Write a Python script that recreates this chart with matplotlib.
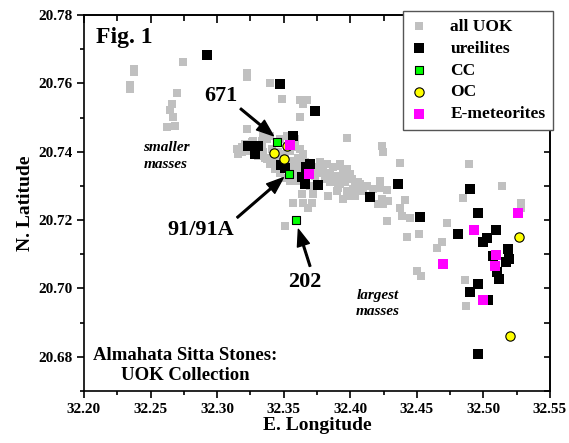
import matplotlib
matplotlib.use('Agg')
import matplotlib.pyplot as plt
from matplotlib.ticker import MultipleLocator, FormatStrFormatter

plt.rcParams['font.family'] = ['Liberation Serif', 'DejaVu Serif']
plt.rcParams['font.weight'] = 'bold'

# all UOK stones (gray)
uok_lon = [32.2376, 32.2376, 32.2346, 32.2346, 32.2746, 32.2697, 32.2659, 32.2646, 32.2671, 32.2684, 32.2621,
           32.3222, 32.3222, 32.3397, 32.3485, 32.3623, 32.3648, 32.3673, 32.3623, 32.3222, 32.3974,
           32.4237, 32.4249, 32.4374, 32.4895,
           32.3147, 32.3159, 32.3185, 32.3210, 32.3272, 32.3335, 32.3373, 32.3347, 32.3373, 32.3397, 32.3435,
           32.3585, 32.3623, 32.3648, 32.3610, 32.3648, 32.3473, 32.3510, 32.3548, 32.3585, 32.3548,
           32.3473, 32.3510, 32.3548,
           32.3773, 32.3823, 32.3873, 32.3923, 32.3974, 32.3773, 32.3823, 32.3886, 32.3948, 32.4011,
           32.4061, 32.4124, 32.4174, 32.4224,
           32.3848, 32.3911, 32.3974, 32.4023, 32.4074,
           32.3698, 32.3723, 32.3711, 32.3685, 32.3648, 32.3636, 32.3835, 32.3572, 32.3510,
           32.3948, 32.3936, 32.3998, 32.3961, 32.4036, 32.4074, 32.4098, 32.4023, 32.3974, 32.4036,
           32.3948, 32.4174, 32.4224, 32.4274, 32.4237, 32.4286, 32.4211, 32.4249, 32.3923,
           32.4412, 32.4374, 32.4387, 32.4449, 32.4274, 32.4519, 32.4424, 32.4725, 32.4687, 32.4650,
           32.4845, 32.4500, 32.4532, 32.4863, 32.4868, 32.5138, 32.5281, 32.5281,
           32.3185, 32.3222, 32.3260, 32.3297, 32.3335, 32.3310, 32.3360, 32.3410, 32.3398, 32.3448,
           32.3460, 32.3485, 32.3523, 32.3560, 32.3598, 32.3623, 32.3585, 32.3610, 32.3660, 32.3710,
           32.3735, 32.3748, 32.3798, 32.3848, 32.3810, 32.3873, 32.3923, 32.3898, 32.3348, 32.3398,
           32.3523, 32.3585]
uok_lat = [20.7643, 20.7633, 20.7594, 20.7584, 20.7663, 20.7571, 20.7540, 20.7521, 20.7501, 20.7476, 20.7471,
           20.7629, 20.7619, 20.7601, 20.7555, 20.7550, 20.7540, 20.7550, 20.7501, 20.7467, 20.7440,
           20.7418, 20.7398, 20.7366, 20.7364,
           20.7408, 20.7393, 20.7413, 20.7423, 20.7432, 20.7432, 20.7437, 20.7398, 20.7379, 20.7364, 20.7349,
           20.7413, 20.7408, 20.7393, 20.7383, 20.7374, 20.7437, 20.7393, 20.7374, 20.7359, 20.7403,
           20.7339, 20.7324, 20.7314,
           20.7369, 20.7364, 20.7354, 20.7359, 20.7349, 20.7339, 20.7334, 20.7329, 20.7324, 20.7320,
           20.7310, 20.7300, 20.7290, 20.7295,
           20.7310, 20.7295, 20.7285, 20.7276, 20.7290,
           20.7300, 20.7276, 20.7251, 20.7236, 20.7251, 20.7276, 20.7271, 20.7251, 20.7182,
           20.7349, 20.7329, 20.7334, 20.7310, 20.7310, 20.7305, 20.7285, 20.7290, 20.7271, 20.7271,
           20.7261, 20.7290, 20.7313, 20.7287, 20.7261, 20.7256, 20.7246, 20.7246, 20.7364,
           20.7258, 20.7234, 20.7212, 20.7205, 20.7198, 20.7159, 20.7150, 20.7192, 20.7137, 20.7119,
           20.7264, 20.7050, 20.7035, 20.7024, 20.6950, 20.7300, 20.7251, 20.7236,
           20.7398, 20.7403, 20.7428, 20.7408, 20.7413, 20.7388, 20.7383, 20.7408, 20.7383, 20.7369,
           20.7398, 20.7383, 20.7359, 20.7349, 20.7339, 20.7359, 20.7329, 20.7314, 20.7369, 20.7344,
           20.7329, 20.7354, 20.7349, 20.7339, 20.7320, 20.7310, 20.7305, 20.7285, 20.7445, 20.7447,
           20.7447, 20.7437]

# ureilites (black)
ure_lon = [32.2924, 32.3473, 32.3736, 32.3568, 32.3234, 32.3305, 32.3285, 32.3480, 32.3510, 32.3698,
           32.3668, 32.3636, 32.3660, 32.3761, 32.4149, 32.4357, 32.4524,
           32.4900, 32.4958, 32.4812, 32.5095, 32.5026, 32.4995, 32.5183, 32.5195, 32.5171, 32.5075,
           32.5105, 32.5120, 32.4962, 32.4900, 32.5038, 32.4962]
ure_lat = [20.7682, 20.7599, 20.7519, 20.7445, 20.7418, 20.7418, 20.7393, 20.7362, 20.7353, 20.7364,
           20.7354, 20.7326, 20.7305, 20.7303, 20.7268, 20.7305, 20.7209,
           20.7290, 20.7221, 20.7158, 20.7171, 20.7148, 20.7136, 20.7116, 20.7087, 20.7077, 20.7094,
           20.7047, 20.7027, 20.7014, 20.6989, 20.6967, 20.6807]

# carbonaceous chondrites (green)
cc_lon = [32.3452, 32.3542, 32.3593]
cc_lat = [20.7429, 20.7334, 20.7199]

# ordinary chondrites (yellow)
oc_lon = [32.3523, 32.3427, 32.3503, 32.5270, 32.5201]
oc_lat = [20.7418, 20.7396, 20.7379, 20.7151, 20.6862]

# enstatite meteorites (magenta)
em_lon = [32.3548, 32.3693, 32.5258, 32.4932, 32.4695, 32.5095, 32.5088, 32.4995]
em_lat = [20.7421, 20.7334, 20.7220, 20.7171, 20.7071, 20.7099, 20.7065, 20.6967]

fig = plt.figure(figsize=(5.69, 4.43), dpi=100)
ax = fig.add_axes([0.1476, 0.1174, 0.819, 0.8487])

ax.scatter(uok_lon, uok_lat, marker='s', s=34, color='#c0c0c0', linewidths=0, label='all UOK', zorder=2)
ax.scatter(ure_lon, ure_lat, marker='s', s=42, color='black', linewidths=0, label='ureilites', zorder=3)
ax.scatter(cc_lon, cc_lat, marker='s', s=40, facecolor='#00ff00', edgecolor='black', linewidths=0.8, label='CC', zorder=4)
ax.scatter(oc_lon, oc_lat, marker='o', s=45, facecolor='#ffff00', edgecolor='black', linewidths=0.8, label='OC', zorder=4)
ax.scatter(em_lon, em_lat, marker='s', s=42, color='#ff00ff', linewidths=0, label='E-meteorites', zorder=5)

ax.set_xlim(32.20, 32.55)
ax.set_ylim(20.67, 20.78)
ax.xaxis.set_major_locator(MultipleLocator(0.05))
ax.xaxis.set_minor_locator(MultipleLocator(0.025))
ax.yaxis.set_major_locator(MultipleLocator(0.02))
ax.yaxis.set_minor_locator(MultipleLocator(0.01))
ax.xaxis.set_major_formatter(FormatStrFormatter('%.2f'))
ax.yaxis.set_major_formatter(FormatStrFormatter('%.2f'))
ax.tick_params(which='major', direction='out', length=5, width=1.2, labelsize=11, top=False, right=False)
ax.tick_params(which='minor', direction='out', length=3, width=1.2, top=False, right=False)
for sp in ax.spines.values():
    sp.set_linewidth(1.2)

# inward ticks on top and right
sx = ax.secondary_xaxis('top')
sx.xaxis.set_major_locator(MultipleLocator(0.05))
sx.xaxis.set_minor_locator(MultipleLocator(0.025))
sx.tick_params(which='major', direction='in', length=6, width=1.2, labeltop=False)
sx.tick_params(which='minor', direction='in', length=4, width=1.2)
sy = ax.secondary_yaxis('right')
sy.yaxis.set_major_locator(MultipleLocator(0.02))
sy.yaxis.set_minor_locator(MultipleLocator(0.01))
sy.tick_params(which='both', direction='in', length=4, width=1.2, labelright=False)
sx.spines['top'].set_linewidth(1.2)
sy.spines['right'].set_linewidth(1.2)

ax.set_xlabel('E. Longitude', fontsize=14, fontweight='bold', labelpad=1)
ax.set_ylabel('N. Latitude', fontsize=14, fontweight='bold', labelpad=3)

ax.text(0.086, 0.9415, 'Fig. 1', transform=ax.transAxes, fontsize=17, ha='center', va='center')

arrow = dict(facecolor='black', edgecolor='black', width=1.2, headwidth=9, headlength=12, shrink=0)
ax.annotate('671', xy=(32.3422, 20.7447), xytext=(32.303, 20.7562), fontsize=16,
            ha='center', va='center', arrowprops=arrow)
ax.annotate('91/91A', xy=(32.3497, 20.7324), xytext=(32.2879, 20.7171), fontsize=16,
            ha='center', va='center', arrowprops=arrow)
ax.annotate('', xy=(32.3610, 20.7173), xytext=(32.3698, 20.7065), arrowprops=arrow)
ax.text(32.366, 20.7020, '202', fontsize=16, ha='center', va='center')

ax.text(32.2616, 20.7388, 'smaller\nmasses', fontsize=11, style='italic', ha='center', va='center', linespacing=1.35)
ax.text(32.4209, 20.6956, 'largest\nmasses', fontsize=11, style='italic', ha='center', va='center', linespacing=1.35)
ax.text(32.2759, 20.6774, 'Almahata Sitta Stones:\nUOK Collection', fontsize=13.5, ha='center', va='center',
        linespacing=1.2)

leg = ax.legend(loc='upper right', bbox_to_anchor=(1.007, 1.011), borderaxespad=0, fontsize=12.5,
                frameon=True, fancybox=False, edgecolor='#555555', framealpha=1,
                handlelength=1.0, handletextpad=1.3, labelspacing=0.33, borderpad=0.45, scatterpoints=1)
leg.get_frame().set_linewidth(1.0)
leg.set_zorder(10)

fig.savefig('out.png', dpi=100)
